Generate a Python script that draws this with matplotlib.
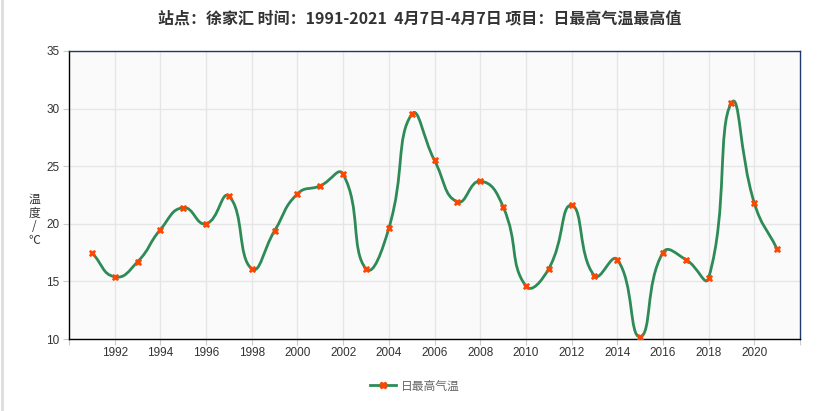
import numpy as np
import matplotlib
matplotlib.use("Agg")
import matplotlib.pyplot as plt
from matplotlib.path import Path
from matplotlib.patches import PathPatch
from matplotlib.lines import Line2D

plt.rcParams['font.family'] = ['Noto Sans CJK SC', 'DejaVu Sans']

years = list(range(1991, 2022))
tmax = [17.5, 15.4, 16.7, 19.5, 21.4, 20.0, 22.4, 16.1, 19.4, 22.6,
        23.3, 24.3, 16.1, 19.6, 29.5, 25.5, 21.9, 23.7, 21.5, 14.6,
        16.1, 21.6, 15.5, 16.9, 10.2, 17.5, 16.9, 15.3, 30.5, 21.8, 17.8]
title = "站点：徐家汇 时间：1991-2021  4月7日-4月7日 项目：日最高气温最高值"
series_name = "日最高气温"
ylabel = "温\n度\n/\n℃"
xticks = list(range(1992, 2021, 2))
yticks = [10, 15, 20, 25, 30, 35]

W, H = 839, 411
fig = plt.figure(figsize=(W / 100, H / 100), dpi=100)
L, R, T, B = 69, 800, 51, 339
ax = fig.add_axes([L / W, 1 - B / H, (R - L) / W, (B - T) / H])
ax.set_facecolor('#fafafa')
ax.set_xlim(1990, 2022)
ax.set_ylim(10, 35)

# smooth curve (echarts-like bezier) computed in pixel-scaled space
sx = (R - L) / 32.0
sy = (B - T) / 25.0
P = np.column_stack([np.array(years, float) * sx, np.array(tmax) * sy])
n = len(P)
smooth = 0.5
verts = [P[0]]
codes = [Path.MOVETO]
cps = []
for i in range(n):
    prev = P[i - 1] if i > 0 else P[i]
    nxt = P[i + 1] if i < n - 1 else P[i]
    v = nxt - prev
    d0 = np.linalg.norm(P[i] - prev)
    d1 = np.linalg.norm(P[i] - nxt)
    s = d0 + d1
    if s == 0:
        cps.append((P[i], P[i]))
        continue
    cps.append((P[i] - v * smooth * d0 / s, P[i] + v * smooth * d1 / s))
for i in range(n - 1):
    verts += [cps[i][1], cps[i + 1][0], P[i + 1]]
    codes += [Path.CURVE4] * 3
verts = np.array(verts) / np.array([sx, sy])
ax.add_patch(PathPatch(Path(verts, codes), fill=False, edgecolor='#2e8b57', lw=2, zorder=3))
ax.plot(years, tmax, ls='none', marker='X', ms=4.5, mfc='#ff4500', mec='#ff4500',
        mew=0.5, zorder=4)

tickfont = ['Liberation Sans', 'DejaVu Sans']
ax.set_xticks(xticks)
ax.set_xticklabels([str(x) for x in xticks], family=tickfont)
ax.set_xticks([1990, 2022], minor=True)
ax.set_yticks(yticks)
ax.set_yticklabels([str(y) for y in yticks], family=tickfont)
ax.grid(True, which='major', color='#e6e6e6', lw=1, zorder=0)
ax.set_axisbelow(True)
ax.tick_params(axis='both', which='both', labelsize=8.5, colors='#333333', length=4, width=0.8)
ax.tick_params(axis='x', which='both', color='#cccccc', pad=2)
ax.tick_params(axis='y', color='#cccccc', pad=3)
for s in ['left', 'bottom']:
    ax.spines[s].set_color('#000000')
for s in ['top', 'right']:
    ax.spines[s].set_color('#1f3a68')
for s in ax.spines.values():
    s.set_linewidth(1)

fig.text(34 / W, 1 - 220 / H, ylabel, ha='center', va='center', fontsize=8.5,
         color='#333333', linespacing=1.05)
fig.text(420 / W, 1 - 18 / H, title, ha='center', va='center', fontsize=11.5,
         fontweight='bold', color='#333333')

h = Line2D([], [], color='#2e8b57', lw=2, marker='X', ms=4.5, mfc='#ff4500', mec='#ff4500')
fig.legend([h], [series_name], loc='center', bbox_to_anchor=(415 / W, 1 - 386 / H),
           frameon=False, fontsize=8.5, labelcolor='#666666', handlelength=2.2,
           handletextpad=0.4)

fig.add_artist(Line2D([1.5 / W, 1.5 / W], [0, 1], color='#dddddd', lw=2))
fig.savefig('out.png', dpi=100)
